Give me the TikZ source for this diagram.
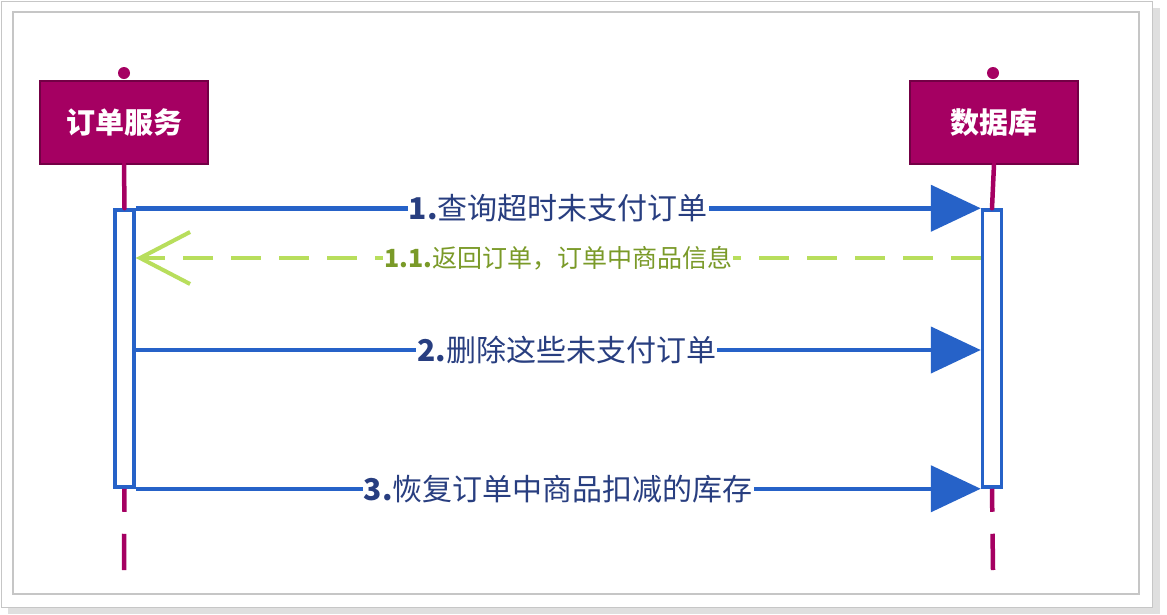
\documentclass[tikz,border=0pt]{standalone}
\usepackage{fontspec}
\usetikzlibrary{arrows.meta,positioning,calc}
\newfontfamily\cjk{Noto Sans CJK SC}
\definecolor{boxred}{RGB}{165,0,98}
\definecolor{lineblue}{RGB}{38,98,200}
\definecolor{textblue}{RGB}{40,62,128}
\definecolor{replygreen}{RGB}{184,222,92}
\definecolor{textgreen}{RGB}{122,154,40}
\tikzstyle{actor}=[draw=boxred!70!black,fill=boxred,text=white,line width=2pt,font=\cjk\bfseries\fontsize{29}{34}\selectfont,minimum width=168pt,minimum height=83pt,inner sep=0pt]
\tikzstyle{lifeline}=[draw=boxred,line width=4.5pt,line cap=round]
\tikzstyle{activation}=[draw=lineblue,fill=white,line width=3.5pt,minimum width=19pt,minimum height=277pt,inner sep=0pt]
\tikzstyle{msg}=[lineblue,line width=4.5pt,-{Triangle[length=50pt,width=46pt]}]
\tikzstyle{reply}=[replygreen,line width=4pt,dash pattern=on 30pt off 18pt,-{Straight Barb[length=50pt,width=52pt]}]
\tikzstyle{msglabel}=[fill=white,inner sep=1pt,text=textblue,font=\cjk\fontsize{30}{35}\selectfont]
\tikzstyle{replylabel}=[fill=white,inner sep=1pt,text=textgreen,font=\cjk\fontsize{25}{29}\selectfont]

\begin{document}
\begin{tikzpicture}[x=1pt,y=-1pt]
\useasboundingbox (0,0) rectangle (1167,614);
% frame
\fill[gray!25] (8,8) rectangle (1160,614);
\draw[gray!45,fill=white,line width=1pt] (1,1) rectangle (1152,607);
\draw[gray!45,line width=1.5pt] (13,12) rectangle (1139,594);

% lifelines
\fill[boxred] (124,73) circle (6pt);
\fill[boxred] (993,73) circle (6pt);
\node [actor] (order) at (124,122) {订单服务};
\node [actor] (db) at (994,122) {数据库};
\node [activation] (orderbar) at (124.5,348.5) {};
\node [activation] (dbbar) at (992,348.5) {};
\draw [lifeline] (order.south) -- (orderbar.north);
\draw [lifeline] (db.south) -- (dbbar.north);
\coordinate (orderend) at (124,570);
\coordinate (dbend) at (993,570);
\draw [lifeline,line cap=butt,dash pattern=on 23pt off 22pt on 38pt off 0pt] (orderbar.south) -- (orderend);
\draw [lifeline,line cap=butt,dash pattern=on 23pt off 22pt on 38pt off 0pt] (dbbar.south) -- (dbend);

% messages
\draw [msg] (orderbar.north east) -- (dbbar.north west)
  node [msglabel,pos=0.5] {\textbf{1.}查询超时未支付订单};
\draw [reply] (dbbar.west |- 0,258) -- (orderbar.east |- 0,258)
  node [replylabel,pos=0.5] {\textbf{1.1.}返回订单，订单中商品信息};
\draw [msg] (orderbar.east |- 0,350) -- (dbbar.west |- 0,350)
  node [msglabel,pos=0.51] {\textbf{2.}删除这些未支付订单};
\draw [msg] (orderbar.south east) -- (dbbar.south west)
  node [msglabel,pos=0.5] {\textbf{3.}恢复订单中商品扣减的库存};
\end{tikzpicture}
\end{document}
